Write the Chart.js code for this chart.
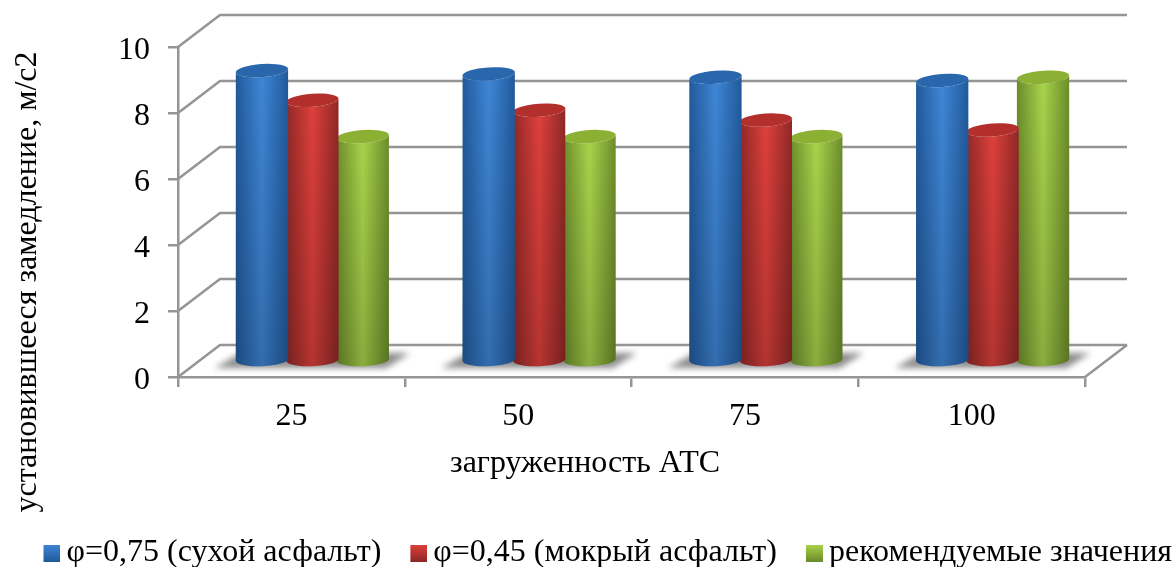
<!DOCTYPE html>
<html>
<head>
<meta charset="utf-8">
<style>
  html, body { margin: 0; padding: 0; background: #fff; }
  canvas { display: block; }
</style>
<script src="https://cdn.jsdelivr.net/npm/chart.js@4"></script>
</head>
<body>
<canvas id="chart" width="1175" height="567"></canvas>
<script>
// Data

const categories = ['25', '50', '75', '100'];
const dryValues = [8.8, 8.7, 8.6, 8.5];
const wetValues = [7.9, 7.6, 7.3, 7.0];
const recommendedValues = [6.8, 6.8, 6.8, 8.6];
const yTickValues = [0, 2, 4, 6, 8, 10];
const seriesNames = ['φ=0,75 (сухой асфальт)', 'φ=0,45 (мокрый асфальт)', 'рекомендуемые значения'];
const yTitle = 'установившееся замедление, м/с2';
const xTitle = 'загруженность АТС';

// Look

const FONT = '"Liberation Serif", "Times New Roman", serif';
const AXIS = '#959595';
const DEPTH_X = 42;
const DEPTH_Y = -32;

const palettes = [
  { edge: '#215a9c', mid: '#3f86d6', top: '#2a66ac' },
  { edge: '#8f2826', mid: '#de403c', top: '#b22f2c' },
  { edge: '#6c8c2a', mid: '#a9d44c', top: '#8bb034' }
];

// Cylinder bars: same layout as a normal bar, only the drawing differs

function drawCylinder(ctx, bar, pal) {
  const rx = bar.width / 2 + 1;
  const ry = 6.5;
  const tilt = -0.07;
  const cx = bar.x + DEPTH_X / 2;
  const top = bar.y + DEPTH_Y / 2;
  const bottom = bar.base + DEPTH_Y / 2;

  ctx.save();
  ctx.beginPath();
  ctx.ellipse(cx, top, rx, ry, tilt, Math.PI, 0, true);
  ctx.ellipse(cx, bottom, rx, ry, -0.04, 0, Math.PI);
  ctx.closePath();

  const side = ctx.createLinearGradient(cx - rx, 0, cx + rx, 0);
  side.addColorStop(0, pal.edge);
  side.addColorStop(0.5, pal.mid);
  side.addColorStop(1, pal.edge);
  ctx.fillStyle = side;
  ctx.fill();

  const shade = ctx.createLinearGradient(0, top, 0, bottom);
  shade.addColorStop(0, 'rgba(0,0,0,0)');
  shade.addColorStop(1, 'rgba(0,0,0,0.18)');
  ctx.fillStyle = shade;
  ctx.fill();

  ctx.beginPath();
  ctx.ellipse(cx, top, rx, ry, tilt, 0, Math.PI * 2);
  ctx.fillStyle = pal.top;
  ctx.fill();
  ctx.restore();
}

class CylinderController extends Chart.BarController {
  draw() {
    const pal = palettes[this.index];
    this._cachedMeta.data.forEach(bar => drawCylinder(this.chart.ctx, bar, pal));
  }
}
CylinderController.id = 'cylinder';
CylinderController.defaults = Chart.BarController.defaults;
CylinderController.overrides = Chart.BarController.overrides;
Chart.register(CylinderController);

// Back wall, floor, shadows and the two axis titles (neither is centred on its axis)

const wallPlugin = {
  id: 'wall',
  beforeDatasetsDraw(chart) {
    const ctx = chart.ctx;
    const x = chart.scales.x;
    const y = chart.scales.y;

    ctx.save();
    ctx.strokeStyle = AXIS;
    ctx.lineWidth = 2.5;
    yTickValues.forEach(v => {
      const py = y.getPixelForValue(v);
      ctx.beginPath();
      ctx.moveTo(x.left, py);
      ctx.lineTo(x.left + DEPTH_X, py + DEPTH_Y);
      ctx.lineTo(x.right + DEPTH_X, py + DEPTH_Y);
      ctx.stroke();
    });
    const floor = y.getPixelForValue(0);
    ctx.beginPath();
    ctx.moveTo(x.right + DEPTH_X, floor + DEPTH_Y);
    ctx.lineTo(x.right, floor);
    ctx.stroke();

    // soft shadow under each group
    ctx.filter = 'blur(3px)';
    ctx.fillStyle = '#8c8c8c';
    const first = chart.getDatasetMeta(0).data;
    const last = chart.getDatasetMeta(2).data;
    first.forEach((bar, i) => {
      const l = bar.x - bar.width / 2 + DEPTH_X / 2;
      const r = last[i].x + last[i].width / 2 + DEPTH_X / 2;
      ctx.beginPath();
      ctx.moveTo(l - 22, floor - 9);
      ctx.lineTo(l + 4, floor - 24);
      ctx.lineTo(r + 22, floor - 24);
      ctx.lineTo(r - 2, floor - 9);
      ctx.closePath();
      ctx.fill();
    });
    ctx.restore();
  },
  afterDraw(chart) {
    const ctx = chart.ctx;
    ctx.save();
    ctx.font = '32px ' + FONT;
    ctx.fillStyle = '#000';
    ctx.textAlign = 'center';
    ctx.textBaseline = 'middle';
    ctx.fillText(xTitle, 585, 464);
    ctx.translate(28, 282);
    ctx.rotate(-Math.PI / 2);
    ctx.fillText(yTitle, 0, 0);
    ctx.restore();
  }
};

// Legend swatches: transparent on the left, so they sit next to their text

function swatch(pal) {
  const c = document.createElement('canvas');
  c.width = 53;
  c.height = 17;
  const g = c.getContext('2d');
  const grad = g.createLinearGradient(0, 0, 0, 17);
  grad.addColorStop(0, pal.mid);
  grad.addColorStop(1, pal.edge);
  g.fillStyle = grad;
  g.fillRect(36, 0, 17, 17);
  return c;
}

const ctx = document.getElementById('chart');
const brakingChart = new Chart(ctx, {
  type: 'cylinder',
  data: {
    labels: categories,
    datasets: [
      { label: seriesNames[0], data: dryValues, backgroundColor: palettes[0].mid },
      { label: seriesNames[1], data: wetValues, backgroundColor: palettes[1].mid },
      { label: seriesNames[2], data: recommendedValues, backgroundColor: palettes[2].mid }
    ]
  },
  plugins: [wallPlugin],
  options: {
    responsive: false,
    animation: false,
    clip: false,
    categoryPercentage: 0.667,
    barPercentage: 1,
    layout: {
      padding: { top: 47, left: 0, right: 0, bottom: -12 }
    },
    scales: {
      x: {
        afterFit(scale) { scale.height = 157; },
        grid: { color: AXIS, lineWidth: 2.5, tickLength: 10, drawOnChartArea: false, offset: true },
        border: { color: AXIS, width: 2.5 },
        ticks: {
          color: '#000',
          padding: 10,
          maxRotation: 0,
          font: { family: FONT, size: 32 }
        }
      },
      y: {
        min: yTickValues[0],
        max: yTickValues[yTickValues.length - 1],
        afterFit(scale) { scale.width = 178; },
        afterBuildTicks(scale) { scale.ticks = yTickValues.map(v => ({ value: v })); },
        grid: { color: AXIS, lineWidth: 2.5, tickLength: 10, drawOnChartArea: false },
        border: { color: AXIS, width: 2.5 },
        ticks: {
          color: '#000',
          padding: 18,
          labelOffset: 4,
          font: { family: FONT, size: 32 }
        }
      },
      // keeps the room on the right for the back wall
      rightGap: {
        position: 'right',
        afterFit(scale) { scale.width = 90; },
        grid: { display: false },
        border: { display: false },
        ticks: { display: false }
      }
    },
    plugins: {
      tooltip: { enabled: false },
      title: { display: false },
      legend: {
        position: 'bottom',
        align: 'end',
        labels: {
          color: '#000',
          usePointStyle: true,
          pointStyleWidth: 33,
          padding: 3,
          font: { family: FONT, size: 32 },
          generateLabels(chart) {
            const items = Chart.defaults.plugins.legend.labels.generateLabels(chart);
            items.forEach((item, i) => { item.pointStyle = swatch(palettes[i]); });
            return items;
          }
        }
      }
    }
  }
});
</script>
</body>
</html>
